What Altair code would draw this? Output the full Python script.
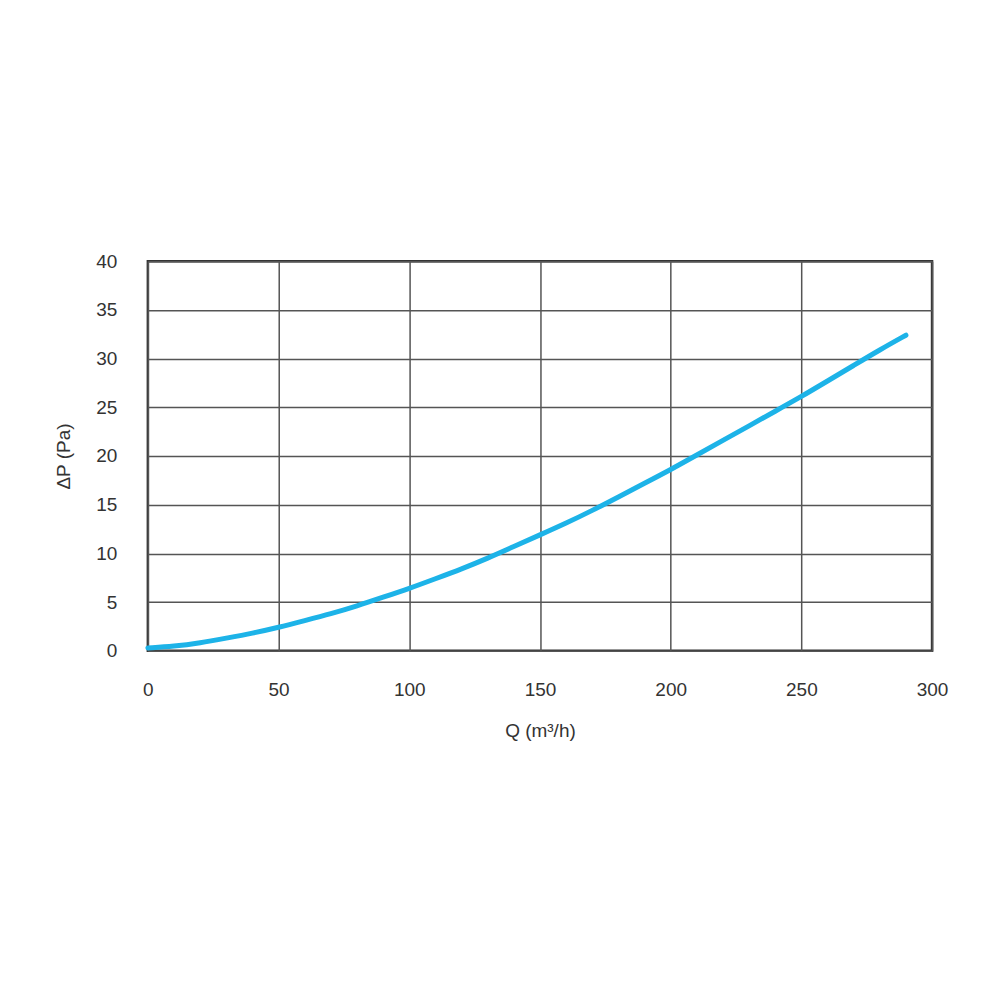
import altair as alt
import pandas as pd

q_values = [0, 10, 20, 30, 40, 50, 60, 70, 80, 90, 100, 110, 120, 130, 140,
            150, 160, 170, 180, 190, 200, 210, 220, 230, 240, 250, 260, 270, 280, 290]
dp_values = [0.3, 0.45, 0.8, 1.3, 1.8, 2.4, 3.1, 3.8, 4.6, 5.5, 6.4, 7.4, 8.4, 9.5, 10.7,
             11.9, 13.1, 14.4, 15.8, 17.2, 18.6, 20.1, 21.6, 23.1, 24.6, 26.1, 27.7, 29.3, 30.9, 32.4]

x_ticks = [0, 50, 100, 150, 200, 250, 300]
y_ticks = [0, 5, 10, 15, 20, 25, 30, 35, 40]

df = pd.DataFrame({"Q": q_values, "dP": dp_values})

font = "Liberation Sans"

chart = alt.Chart(df).mark_line(
    color="#1db3e8", strokeWidth=5, interpolate="basis", strokeCap="round"
).encode(
    x=alt.X("Q:Q", scale=alt.Scale(domain=[0, 300], nice=False),
            axis=alt.Axis(values=x_ticks, title="Q (m³/h)", grid=True,
                          gridColor="#555555", gridWidth=1.5, domain=False, ticks=False,
                          labelFlush=False, labelOverlap=False,
                          labelPadding=30, labelFontSize=19, labelColor="#333333",
                          labelFont=font, titleFont=font, titleFontSize=19,
                          titleFontWeight="normal", titleColor="#333333", titlePadding=22)),
    y=alt.Y("dP:Q", scale=alt.Scale(domain=[0, 40], nice=False),
            axis=alt.Axis(values=y_ticks, title="ΔP (Pa)", grid=True,
                          gridColor="#555555", gridWidth=1.5, domain=False, ticks=False,
                          labelFlush=False, labelOverlap=False,
                          labelPadding=31, labelFontSize=19, labelColor="#333333",
                          labelFont=font, titleFont=font, titleFontSize=19,
                          titleFontWeight="normal", titleColor="#333333", titlePadding=22)),
).properties(
    width=785, height=390,
    autosize=alt.AutoSizeParams(type="none"),
    padding={"left": 140, "top": 253, "right": 60, "bottom": 260},
).configure_view(
    stroke="#333333", strokeWidth=2.5
)

chart.save("out.html", embed_options={"renderer": "svg", "actions": False})
